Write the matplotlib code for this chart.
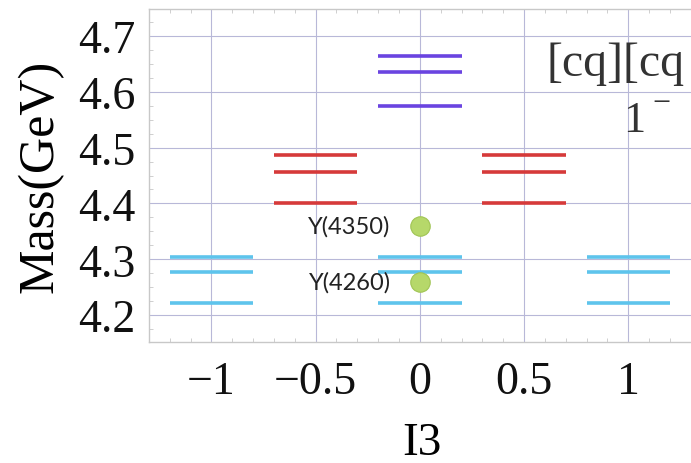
import matplotlib.pyplot as plt
from matplotlib.ticker import MultipleLocator

# isospin projections and mass levels (GeV)
i3_blue = [-1, 0, 1]
m_blue = [4.221, 4.277, 4.305]
i3_red = [-0.5, 0.5]
m_red = [4.400, 4.457, 4.486]
i3_purple = [0]
m_purple = [4.575, 4.635, 4.664]

y_i3 = [0, 0]
y_mass = [4.260, 4.360]
y_names = ['Y(4260)', 'Y(4350)']

xticks = [-1, -0.5, 0, 0.5, 1]
xtick_labels = ['\u22121', '\u22120.5', '0', '0.5', '1']
yticks = [4.2, 4.3, 4.4, 4.5, 4.6, 4.7]

serif = ['Liberation Serif', 'DejaVu Serif']

fig = plt.figure(figsize=(6.91, 4.64), dpi=100)
ax = fig.add_axes([0.2156, 0.2608, 0.79, 0.7176])

half = 0.2
for x in i3_blue:
    ax.hlines(m_blue, x - half, x + half, color='#5ec4ec', lw=2.6)
for x in i3_red:
    ax.hlines(m_red, x - half, x + half, color='#d63a3a', lw=2.6)
for x in i3_purple:
    ax.hlines(m_purple, x - half, x + half, color='#6a44e0', lw=2.6)

ax.plot(y_i3, y_mass, 'o', ms=14, color='#b6d86a', mec='#a0c454', mew=0.8, zorder=5)
for x, m, name in zip(y_i3, y_mass, y_names):
    ax.text(x - 0.14, m, name, ha='right', va='center', fontsize=17,
            family=['Lato', 'DejaVu Sans'], color='#222222')

# quantum number labels, top right
ax.text(0.61, 4.63, '[cq][cq', fontsize=34.5, family=serif, color='#333333',
        ha='left', va='baseline')
ax.text(1.03, 4.53, '1', fontsize=32, family=serif, color='#333333',
        ha='center', va='baseline')
ax.text(1.16, 4.578, '\u2212', fontsize=23, family=serif, color='#333333',
        ha='center', va='center')

ax.set_xlim(-1.3, 1.32)
ax.set_ylim(4.152, 4.748)
ax.set_xticks(xticks)
ax.set_xticklabels(xtick_labels)
ax.set_yticks(yticks)
ax.xaxis.set_minor_locator(MultipleLocator(0.1))
ax.yaxis.set_minor_locator(MultipleLocator(0.025))

ax.grid(True, which='major', color='#b8b8d8', lw=0.8)
ax.set_axisbelow(True)
for s in ax.spines.values():
    s.set_color('#c8c8c8')
    s.set_linewidth(1.0)

ax.tick_params(which='both', direction='in', color='#c8c8c8', top=True, right=True)
ax.tick_params(which='major', length=0)
ax.tick_params(which='minor', length=3)
ax.tick_params(axis='x', which='major', pad=13)
ax.tick_params(axis='y', which='major', pad=10)
for lab in ax.get_xticklabels() + ax.get_yticklabels():
    lab.set_family(serif)
    lab.set_fontsize(33)
    lab.set_color('#111111')

ax.set_xlabel('I3', fontsize=34, family=serif, labelpad=14)
ax.set_ylabel('Mass(GeV)', fontsize=36, family=serif, labelpad=10)

fig.savefig('out.png', dpi=100)
